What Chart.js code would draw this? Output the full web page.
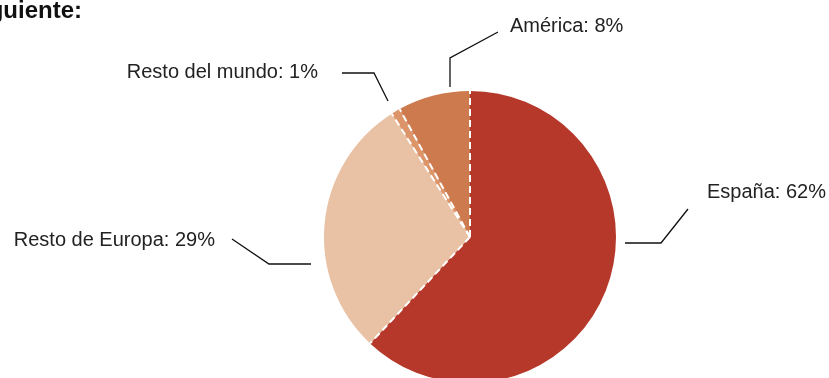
<!DOCTYPE html>
<html>
<head>
<meta charset="utf-8">
<script src="https://cdn.jsdelivr.net/npm/chart.js@4"></script>
<style>
html, body { margin: 0; padding: 0; overflow: hidden; background: #fff; width: 829px; height: 378px; }
#wrap { position: absolute; left: 0; top: 0; width: 829px; height: 474px; }
</style>
</head>
<body>
<div id="wrap"><canvas id="pieChart" width="829" height="474"></canvas></div>
<script>

// data

let regions = ["España", "Resto de Europa", "Resto del mundo", "América"];
let shares = [62, 29, 1, 8];
let sliceColors = ["#b5382a", "#e9c2a5", "#dc9468", "#cd7a4e"];
let headingText = "guiente:";

// leader lines, offsets from pie centre (same order as regions)

let leaders = [
  { pts: [[155, 6], [191, 6], [218, -28]], text: [237, -39], align: "left" },
  { pts: [[-159, 27], [-201, 27], [-238, 2]], text: [-255, 9], align: "right" },
  { pts: [[-82, -136], [-96, -164], [-128, -164]], text: [-152, -159], align: "right" },
  { pts: [[-20, -150], [-20, -179], [28, -205]], text: [40, -205.5], align: "left" }
];

// white dashed separators + labels + cut heading

const piePlugin = {
  id: "pieExtras",
  afterDatasetsDraw(chart) {
    let ctx = chart.ctx;
    let arcs = chart.getDatasetMeta(0).data;
    let cx = arcs[0].x;
    let cy = arcs[0].y;

    ctx.save();
    ctx.strokeStyle = "#ffffff";
    ctx.lineWidth = 2;
    ctx.setLineDash([7, 4]);
    arcs.forEach(arc => {
      let r = arc.outerRadius;
      ctx.beginPath();
      ctx.moveTo(cx, cy);
      ctx.lineTo(cx + r * Math.cos(arc.startAngle), cy + r * Math.sin(arc.startAngle));
      ctx.stroke();
    });
    ctx.restore();

    ctx.save();
    ctx.strokeStyle = "#111";
    ctx.lineWidth = 1.3;
    ctx.font = '20px "Liberation Sans", Arial, sans-serif';
    ctx.fillStyle = "#222";
    ctx.textBaseline = "alphabetic";
    leaders.forEach((l, i) => {
      ctx.beginPath();
      l.pts.forEach((p, j) => {
        if (j === 0) ctx.moveTo(cx + p[0], cy + p[1]);
        else ctx.lineTo(cx + p[0], cy + p[1]);
      });
      ctx.stroke();
      ctx.textAlign = l.align;
      ctx.fillText(regions[i] + ": " + shares[i] + "%", cx + l.text[0], cy + l.text[1]);
    });

    ctx.font = 'bold 24px "Liberation Sans", Arial, sans-serif';
    ctx.fillStyle = "#111";
    ctx.textAlign = "right";
    ctx.fillText(headingText, 82, 18);
    ctx.restore();
  }
};

let chart = new Chart(document.getElementById("pieChart").getContext("2d"), {
  type: "pie",
  data: {
    labels: regions,
    datasets: [{
      data: shares,
      backgroundColor: sliceColors,
      borderWidth: 0
    }]
  },
  options: {
    responsive: false,
    devicePixelRatio: 1,
    animation: false,
    radius: 146,
    layout: { padding: { left: 111 } },
    plugins: {
      legend: { display: false },
      tooltip: { enabled: false }
    }
  },
  plugins: [piePlugin]
});

</script>
</body>
</html>
